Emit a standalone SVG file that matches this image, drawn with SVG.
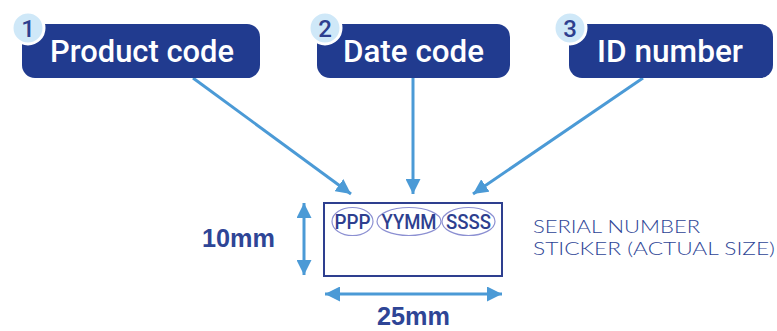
<svg xmlns="http://www.w3.org/2000/svg" width="777" height="331" viewBox="0 0 777 331">
<defs>
<style>
.box{fill:#213b8f}
.lbl{font-family:Roboto,"Liberation Sans",Arial,sans-serif;font-size:32px;font-weight:500;fill:#fff}
.badge{fill:#cfe8f8;stroke:#fff;stroke-width:3}
.num{font-family:Roboto,"Liberation Sans",Arial,sans-serif;font-size:24px;font-weight:500;fill:#2e3f8f;text-anchor:middle}
.conn{stroke:#4b9ad6;stroke-width:3;fill:none}
.code{font-family:Roboto,"Liberation Sans",Arial,sans-serif;font-size:20px;font-weight:500;fill:#2e3f8f;text-anchor:middle}
.oval{fill:none;stroke:#8c90d2;stroke-width:1.2}
.dim{font-family:"Liberation Sans",Arial,sans-serif;font-size:25px;font-weight:bold;fill:#2e4596}
.cap{font-family:Lato,"DejaVu Sans",sans-serif;font-size:18px;font-weight:300;fill:#2e4596}
</style>
<marker id="ah2" viewBox="0 0 10 10" refX="10" refY="5" markerWidth="15" markerHeight="15" markerUnits="userSpaceOnUse" orient="auto-start-reverse">
<path d="M0,0 L10,5 L0,10 z" fill="#4b9ad6"/>
</marker>
</defs>
<rect width="777" height="331" fill="#fff"/>
<g id="connectors">
<line class="conn" x1="193" y1="78" x2="351" y2="194" marker-end="url(#ah2)"/>
<line class="conn" x1="413" y1="78" x2="413" y2="194" marker-end="url(#ah2)"/>
<line class="conn" x1="643" y1="78" x2="473" y2="194" marker-end="url(#ah2)"/>
<line class="conn" x1="304" y1="203" x2="304" y2="275" marker-start="url(#ah2)" marker-end="url(#ah2)"/>
<line class="conn" x1="325" y1="294" x2="502" y2="294" marker-start="url(#ah2)" marker-end="url(#ah2)"/>
</g>
<g id="node-product-code">
<rect class="box" x="22" y="24" width="238" height="54" rx="13"/>
<circle class="badge" cx="28" cy="28" r="16"/>
<text class="num" x="28" y="37">1</text>
<text class="lbl" x="50" y="62" textLength="184" lengthAdjust="spacingAndGlyphs">Product code</text>
</g>
<g id="node-date-code">
<rect class="box" x="317" y="24" width="193" height="54" rx="13"/>
<circle class="badge" cx="325" cy="28" r="16"/>
<text class="num" x="325" y="37">2</text>
<text class="lbl" x="343" y="62" textLength="141" lengthAdjust="spacingAndGlyphs">Date code</text>
</g>
<g id="node-id-number">
<rect class="box" x="569" y="24" width="204" height="54" rx="13"/>
<circle class="badge" cx="570" cy="28" r="16"/>
<text class="num" x="570" y="37">3</text>
<text class="lbl" x="597" y="62" textLength="146" lengthAdjust="spacingAndGlyphs">ID number</text>
</g>
<g id="sticker">
<rect x="324" y="203" width="178" height="73" fill="#fff" stroke="#2e3f8f" stroke-width="2"/>
<ellipse class="oval" cx="352.5" cy="221.5" rx="20.5" ry="14"/>
<ellipse class="oval" cx="409" cy="221.5" rx="32" ry="14"/>
<ellipse class="oval" cx="468.5" cy="221.5" rx="26.5" ry="14"/>
<text class="code" x="352.5" y="229" textLength="36" lengthAdjust="spacingAndGlyphs">PPP</text>
<text class="code" x="409" y="229" textLength="55" lengthAdjust="spacingAndGlyphs">YYMM</text>
<text class="code" x="468.5" y="229" textLength="45" lengthAdjust="spacingAndGlyphs">SSSS</text>
</g>
<g id="dimensions">
<text class="dim" x="202" y="247" textLength="73" lengthAdjust="spacingAndGlyphs">10mm</text>
<text class="dim" x="377" y="325" textLength="73" lengthAdjust="spacingAndGlyphs">25mm</text>
</g>
<g id="caption">
<text class="cap" x="533" y="233" textLength="167" lengthAdjust="spacingAndGlyphs">SERIAL NUMBER</text>
<text class="cap" x="533" y="255" textLength="242" lengthAdjust="spacingAndGlyphs">STICKER (ACTUAL SIZE)</text>
</g>
</svg>
